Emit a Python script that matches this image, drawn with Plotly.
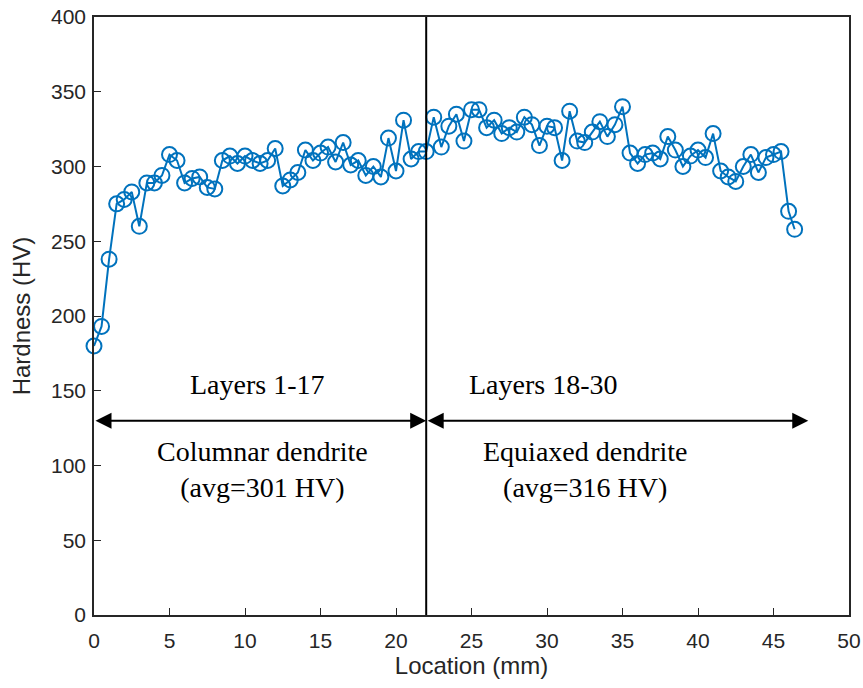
import plotly.graph_objects as go

location_mm = [0.0, 0.5, 1.0, 1.5, 2.0, 2.5, 3.0, 3.5, 4.0, 4.5,
               5.0, 5.5, 6.0, 6.5, 7.0, 7.5, 8.0, 8.5, 9.0, 9.5,
               10.0, 10.5, 11.0, 11.5, 12.0, 12.5, 13.0, 13.5, 14.0, 14.5,
               15.0, 15.5, 16.0, 16.5, 17.0, 17.5, 18.0, 18.5, 19.0, 19.5,
               20.0, 20.5, 21.0, 21.5, 22.0, 22.5, 23.0, 23.5, 24.0, 24.5,
               25.0, 25.5, 26.0, 26.5, 27.0, 27.5, 28.0, 28.5, 29.0, 29.5,
               30.0, 30.5, 31.0, 31.5, 32.0, 32.5, 33.0, 33.5, 34.0, 34.5,
               35.0, 35.5, 36.0, 36.5, 37.0, 37.5, 38.0, 38.5, 39.0, 39.5,
               40.0, 40.5, 41.0, 41.5, 42.0, 42.5, 43.0, 43.5, 44.0, 44.5,
               45.0, 45.5, 46.0, 46.4]

hardness_hv = [180, 193, 238, 275, 278, 283, 260, 289, 289, 294,
               308, 304, 289, 292, 293, 286, 285, 304, 307, 302,
               307, 304, 302, 304, 312, 287, 291, 296, 311, 304,
               309, 313, 303, 316, 301, 304, 294, 300, 293, 319,
               297, 331, 305, 310, 310, 333, 313, 327, 335, 317,
               338, 338, 326, 331, 322, 326, 323, 333, 328, 314,
               327, 326, 304, 337, 317, 316, 323, 330, 320, 328,
               340, 309, 302, 308, 309, 305, 320, 311, 300, 307,
               311, 306, 322, 297, 293, 290, 300, 308, 296, 306,
               308, 310, 270, 258]

x_ticks = [0, 5, 10, 15, 20, 25, 30, 35, 40, 45, 50]
y_ticks = [0, 50, 100, 150, 200, 250, 300, 350, 400]

boundary_x = 22
arrow_y = 130
arrow_left_x = 0
arrow_right_x = 47.3

labels_top = ["Layers 1-17", "Layers 18-30"]
labels_top_x = [10.8, 29.8]
labels_top_y = 154
labels_bottom = ["Columnar dendrite<br>(avg=301 HV)", "Equiaxed dendrite<br>(avg=316 HV)"]
labels_bottom_x = [11.15, 32.5]
labels_bottom_y = 97

AX = "#262626"
BLUE = "#0072BD"

fig = go.Figure()
fig.add_trace(go.Scatter(
    x=location_mm, y=hardness_hv, mode="lines+markers",
    line=dict(color=BLUE, width=2),
    marker=dict(symbol="circle-open", size=15, color=BLUE, line=dict(width=2, color=BLUE)),
    showlegend=False, cliponaxis=False,
))

fig.add_shape(type="line", x0=boundary_x, x1=boundary_x, y0=0, y1=400,
              xref="x", yref="y", line=dict(color="black", width=2))

# double-headed arrows
for x0, x1 in [(arrow_left_x, boundary_x), (boundary_x, arrow_right_x)]:
    fig.add_annotation(x=x1, y=arrow_y, ax=x0, ay=arrow_y, xref="x", yref="y",
                       axref="x", ayref="y", text="", showarrow=True,
                       arrowhead=2, startarrowhead=2, arrowside="end+start",
                       arrowsize=1.6, startarrowsize=1.6, arrowwidth=2, arrowcolor="black")

for t, xx in zip(labels_top, labels_top_x):
    fig.add_annotation(x=xx, y=labels_top_y, xref="x", yref="y", text=t, showarrow=False,
                       font=dict(family="Liberation Serif", size=28, color="black"))
for t, xx in zip(labels_bottom, labels_bottom_x):
    fig.add_annotation(x=xx, y=labels_bottom_y, xref="x", yref="y", text=t, showarrow=False,
                       align="center",
                       font=dict(family="Liberation Serif", size=28, color="black"))

axis_common = dict(showgrid=False, zeroline=False, showline=True, linecolor=AX, linewidth=1.5,
                   mirror=True, ticks="inside", ticklen=7, tickcolor=AX, tickwidth=1.2,
                   automargin=False,
                   tickfont=dict(family="Liberation Sans", size=21, color=AX))

fig.update_layout(
    width=863, height=688,
    margin=dict(l=94, r=14, t=17, b=73),
    plot_bgcolor="white", paper_bgcolor="white",
    xaxis=dict(range=[0, 50], tickvals=x_ticks, ticklabelstandoff=6,
               title=dict(text="Location (mm)", font=dict(family="Liberation Sans", size=24, color=AX), standoff=6),
               **axis_common),
    yaxis=dict(range=[0, 400], tickvals=y_ticks, ticklabelstandoff=2,
               title=dict(text="Hardness (HV)", font=dict(family="Liberation Sans", size=24, color=AX), standoff=14),
               **axis_common),
)

fig.write_html("out.html", config={"displayModeBar": False},
               post_script="document.body.style.margin='0';document.body.style.overflow='hidden';")
